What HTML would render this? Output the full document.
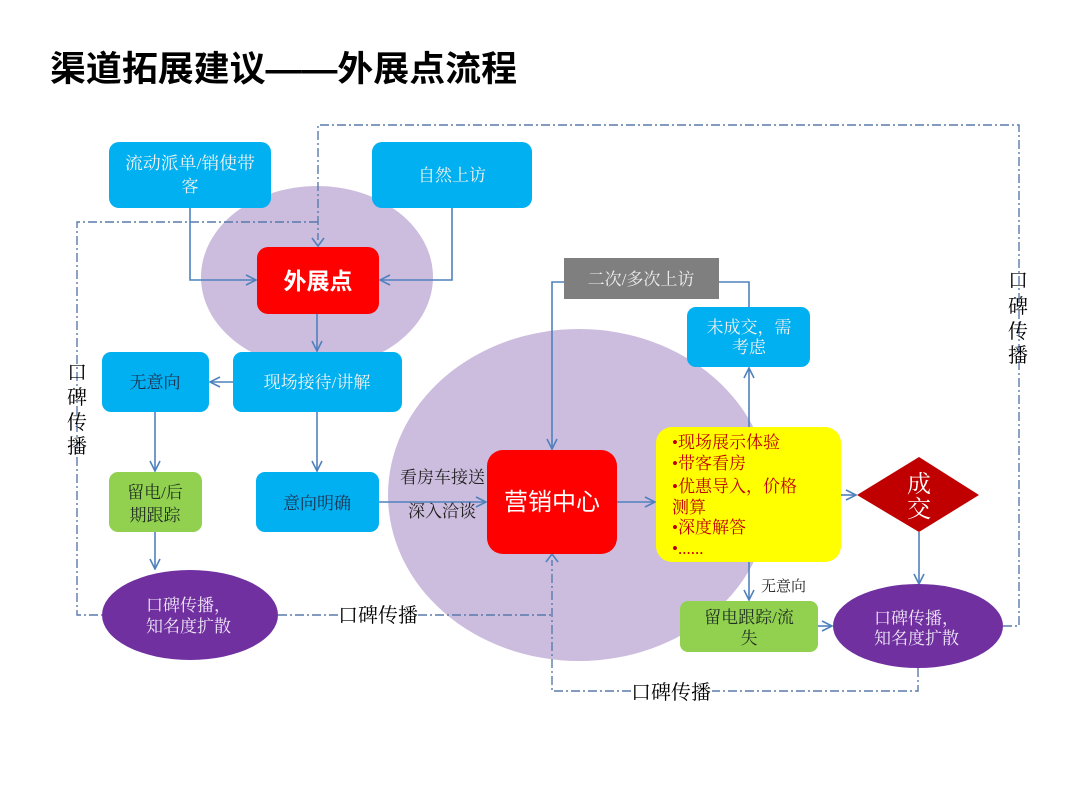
<!DOCTYPE html>
<html><head><meta charset="utf-8">
<style>
html,body{margin:0;padding:0;background:#fff;}
svg{display:block;}
.s{font-family:"Liberation Serif","Noto Serif CJK SC",serif;}
.ss{font-family:"Liberation Sans","Noto Sans CJK SC",sans-serif;}
</style></head>
<body>
<svg width="1080" height="810" viewBox="0 0 1080 810" xmlns="http://www.w3.org/2000/svg">
<defs>
<marker id="a" viewBox="0 0 12 12" refX="11" refY="6" markerWidth="12" markerHeight="12" markerUnits="userSpaceOnUse" orient="auto">
<path d="M1,1 L11,6 L1,11" fill="none" stroke="#4F81BD" stroke-width="1.6"/>
</marker>
</defs>
<rect width="1080" height="810" fill="#fff"/>

<!-- title -->
<text x="50" y="81" class="ss" font-size="35" font-weight="bold" fill="#000" textLength="467" lengthAdjust="spacingAndGlyphs">渠道拓展建议——外展点流程</text>

<!-- lavender circles -->
<ellipse cx="317" cy="277" rx="116" ry="91" fill="#CCBCDE"/>
<ellipse cx="579" cy="495" rx="191" ry="166" fill="#CCBCDE"/>

<!-- dash-dot lines -->
<g fill="none" stroke="#5A7AAA" stroke-width="1.4" stroke-dasharray="9,3,2,3">
<polyline points="1003,626 1019,626 1019,125 318,125 318,240"/>
<polyline points="318,222 77,222 77,615 102,615"/>
<polyline points="278,615 338,615"/>
<polyline points="418,615 552,615"/>
<polyline points="918,668 918,691 712,691"/>
<polyline points="631,691 552,691 552,560"/>
</g>
<path d="M312,238 L318,246 L324,238" fill="none" stroke="#4F81BD" stroke-width="1.6"/>
<path d="M546,562 L552,554 L558,562" fill="none" stroke="#4F81BD" stroke-width="1.6"/>

<!-- solid connectors -->
<g fill="none" stroke="#4F81BD" stroke-width="1.6">
<polyline points="190,208 190,280 256,280" marker-end="url(#a)"/>
<polyline points="452,208 452,280 380,280" marker-end="url(#a)"/>
<polyline points="317,314 317,351" marker-end="url(#a)"/>
<polyline points="233,382 210,382" marker-end="url(#a)"/>
<polyline points="155,412 155,471" marker-end="url(#a)"/>
<polyline points="317,412 317,471" marker-end="url(#a)"/>
<polyline points="155,532 155,569" marker-end="url(#a)"/>
<polyline points="379,502 486,502" marker-end="url(#a)"/>
<polyline points="617,502 655,502" marker-end="url(#a)"/>
<polyline points="564,282 552,282 552,449" marker-end="url(#a)"/>
<polyline points="719,282 749,282 749,307"/>
<polyline points="749,427 749,368" marker-end="url(#a)"/>
<polyline points="841,495 856,495" marker-end="url(#a)"/>
<polyline points="919,532 919,584" marker-end="url(#a)"/>
<polyline points="749,562 749,600" marker-end="url(#a)"/>
<polyline points="818,626 832,626" marker-end="url(#a)"/>
</g>

<!-- boxes -->
<rect x="109" y="142" width="162" height="66" rx="10" fill="#00B0F0"/>
<rect x="372" y="142" width="160" height="66" rx="10" fill="#00B0F0"/>
<rect x="257" y="247" width="122" height="67" rx="11" fill="#FF0000"/>
<rect x="233" y="352" width="169" height="60" rx="9" fill="#00B0F0"/>
<rect x="102" y="352" width="107" height="60" rx="9" fill="#00B0F0"/>
<rect x="109" y="472" width="93" height="60" rx="9" fill="#92D050"/>
<rect x="256" y="472" width="123" height="60" rx="9" fill="#00B0F0"/>
<ellipse cx="190" cy="615" rx="88" ry="45" fill="#7030A0"/>
<rect x="487" y="450" width="130" height="104" rx="16" fill="#FF0000"/>
<rect x="564" y="258" width="155" height="41" fill="#7F7F7F"/>
<rect x="687" y="307" width="123" height="60" rx="9" fill="#00B0F0"/>
<rect x="656" y="427" width="185" height="135" rx="16" fill="#FFFF00"/>
<polygon points="857,495 919,457 979,495 919,532" fill="#C00000"/>
<rect x="680" y="601" width="138" height="51" rx="8" fill="#92D050"/>
<ellipse cx="918" cy="626" rx="85" ry="42" fill="#7030A0"/>

<!-- box texts -->
<g class="s" font-size="17" text-anchor="middle">
<text x="190" y="169" fill="#F2F2F2" textLength="130" lengthAdjust="spacingAndGlyphs">流动派单/销使带</text>
<text x="190" y="192" fill="#F2F2F2">客</text>
<text x="452" y="181" fill="#F2F2F2">自然上访</text>
<text x="317" y="388" fill="#F2F2F2">现场接待/讲解</text>
<text x="155" y="388" fill="#1F3050">无意向</text>
<text x="155" y="498" fill="#1F3020">留电/后</text>
<text x="155" y="521" fill="#1F3020">期跟踪</text>
<text x="317" y="509" fill="#1F3050">意向明确</text>
<text x="641" y="285" fill="#EDEDED">二次/多次上访</text>
<text x="749" y="333" fill="#F2F2F2">未成交，需</text>
<text x="749" y="353" fill="#F2F2F2">考虑</text>
<text x="749" y="623" fill="#1F3020">留电跟踪/流</text>
<text x="749" y="644" fill="#1F3020">失</text>
</g>
<g class="s" font-size="17" fill="#F0E8F8">
<text x="146" y="611">口碑传播，</text>
<text x="146" y="632">知名度扩散</text>
<text x="874" y="624">口碑传播，</text>
<text x="874" y="644">知名度扩散</text>
</g>
<text x="318" y="289" class="ss" font-size="23" font-weight="bold" fill="#fff" text-anchor="middle">外展点</text>
<text x="552" y="510" class="ss" font-size="24" fill="#fff" text-anchor="middle">营销中心</text>
<text x="919" y="492" class="s" font-size="24" fill="#fff" text-anchor="middle">成</text>
<text x="919" y="517" class="s" font-size="24" fill="#fff" text-anchor="middle">交</text>

<!-- yellow box list -->
<g class="s" font-size="17" fill="#C00000">
<text x="672" y="448">•现场展示体验</text>
<text x="672" y="469">•带客看房</text>
<text x="672" y="492">•优惠导入，价格</text>
<text x="672" y="513">测算</text>
<text x="672" y="533">•深度解答</text>
<text x="672" y="554">•......</text>
</g>

<!-- labels -->
<g class="s" fill="#222">
<text x="761" y="591" font-size="15">无意向</text>
<text x="400" y="483" font-size="17">看房车接送</text>
<text x="408" y="517" font-size="17">深入洽谈</text>
</g>
<g class="s" fill="#000" font-size="20" text-anchor="middle">
<text x="378" y="622">口碑传播</text>
<text x="671" y="699">口碑传播</text>
<text x="77" y="379">口</text>
<text x="77" y="404">碑</text>
<text x="77" y="429">传</text>
<text x="77" y="453">播</text>
<text x="1018" y="287">口</text>
<text x="1018" y="313">碑</text>
<text x="1018" y="338">传</text>
<text x="1018" y="362">播</text>
</g>
</svg>
</body></html>
